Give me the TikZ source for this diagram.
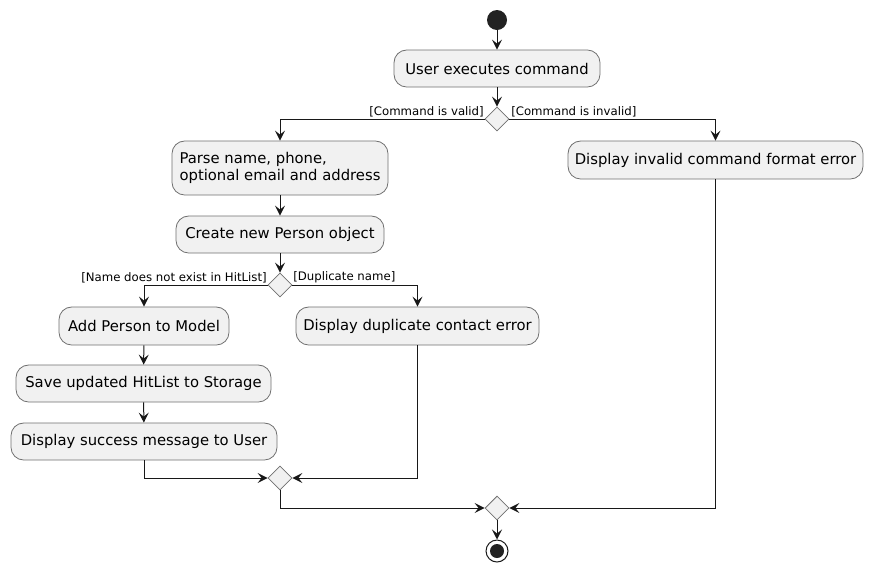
\documentclass[tikz,border=0pt]{standalone}
\usepackage{fontspec}
\setmainfont{DejaVu Sans}
\usetikzlibrary{arrows.meta,shapes.geometric}
\definecolor{boxfill}{HTML}{F1F1F1}
\definecolor{ink}{HTML}{181818}
\definecolor{edge}{HTML}{707070}
\definecolor{dot}{HTML}{222222}
\tikzset{
  act/.style={draw=edge, line width=0.6pt, fill=boxfill, rounded corners=9.5pt, inner sep=0pt,
    font=\fontsize{11.1}{13.3}\selectfont, align=left},
  branch/.style={diamond, draw=edge, line width=0.6pt, fill=boxfill, inner sep=0pt,
    minimum width=18pt, minimum height=18pt},
  guard/.style={font=\fontsize{8.8}{10}\selectfont, inner sep=0pt},
  arr/.style={draw=ink, line width=0.75pt, -{Stealth[length=7.5pt,width=7.5pt,inset=3pt]}},
}
\begin{document}
\begin{tikzpicture}[x=0.75pt,y=-0.75pt]
\fill[white] (0,0) rectangle (873,572);
\useasboundingbox (0,0) rectangle (873,572);

\node[circle, fill=dot, minimum size=15pt, inner sep=0pt] (start) at (497,20) {};
\node[act, minimum width=154.5pt, minimum height=27.75pt] (user) at (497,68.5) {User executes command};
\node[branch] (d1) at (497,119) {};
\node[guard, anchor=south east] (g1) at (484,117) {[Command is valid]};
\node[guard, anchor=south west] (g2) at (511,117) {[Command is invalid]};

\node[act, minimum width=162pt, minimum height=40.5pt] (parse) at (280,168) {Parse name, phone,\\optional email and address};
\node[act, minimum width=221.25pt, minimum height=28.5pt] (invalid) at (715.5,160) {Display invalid command format error};
\node[act, minimum width=156pt, minimum height=27.75pt] (create) at (280,234.5) {Create new Person object};
\node[branch] (d2) at (280,285) {};
\node[guard, anchor=south east] (g3) at (267,283) {[Name does not exist in HitList]};
\node[guard, anchor=south west] (g4) at (293,283) {[Duplicate name]};

\node[act, minimum width=127.5pt, minimum height=28.5pt] (add) at (144,326) {Add Person to Model};
\node[act, minimum width=182.25pt, minimum height=28.5pt] (dup) at (417.5,326) {Display duplicate contact error};
\node[act, minimum width=191.25pt, minimum height=27.75pt] (save) at (143.5,383.5) {Save updated HitList to Storage};
\node[act, minimum width=199.5pt, minimum height=27.75pt] (succ) at (144,441.5) {Display success message to User};

\node[branch] (m2) at (280,478) {};
\node[branch] (m1) at (497,508) {};
\node[circle, draw=ink, line width=0.75pt, fill=white, minimum size=16.5pt, inner sep=0pt] (stop) at (497,551) {};
\fill[dot] (stop.center) circle (5.25pt);

\draw[arr] (start) -- (user);
\draw[arr] (user) -- (d1);
\draw[arr] (d1.west) -| (parse.north);
\draw[arr] (d1.east) -| (invalid.north);
\draw[arr] (parse) -- (create);
\draw[arr] (create) -- (d2);
\draw[arr] (d2.west) -| (add.north);
\draw[arr] (d2.east) -| (dup.north);
\draw[arr] (add) -- (save);
\draw[arr] (save) -- (succ);
\draw[arr] (succ.south) |- (m2.west);
\draw[arr] (dup.south) |- (m2.east);
\draw[arr] (m2.south) |- (m1.west);
\draw[arr] (invalid.south) |- (m1.east);
\draw[arr] (m1) -- (stop);
\end{tikzpicture}
\end{document}
